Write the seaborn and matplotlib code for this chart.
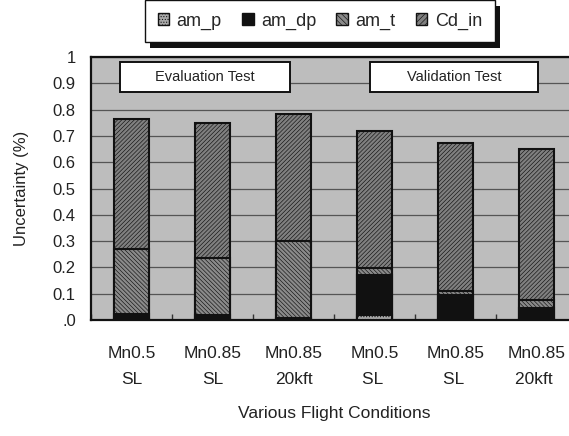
import matplotlib
matplotlib.use("Agg")
import matplotlib.pyplot as plt
import matplotlib.patheffects as pe
import seaborn as sns
import pandas as pd
import numpy as np
from matplotlib.patches import Patch, Rectangle

conditions = ["Mn0.5\nSL", "Mn0.85\nSL", "Mn0.85\n20kft", "Mn0.5\nSL ", "Mn0.85\nSL ", "Mn0.85\n20kft "]
am_p = [0.003, 0.003, 0.002, 0.018, 0.003, 0.003]
am_dp = [0.020, 0.018, 0.004, 0.152, 0.092, 0.042]
am_t = [0.246, 0.215, 0.295, 0.027, 0.016, 0.031]
cd_in = [0.495, 0.514, 0.482, 0.523, 0.562, 0.574]
series_names = ["am_p", "am_dp", "am_t", "Cd_in"]
ytick_vals = [0, 0.1, 0.2, 0.3, 0.4, 0.5, 0.6, 0.7, 0.8, 0.9, 1.0]
ytick_labels = [".0", "0.1", "0.2", "0.3", "0.4", "0.5", "0.6", "0.7", "0.8", "0.9", "1"]

sns.set_theme(style="white")
plt.rcParams["font.family"] = ["Liberation Sans", "DejaVu Sans"]
plt.rcParams["hatch.linewidth"] = 0.45

df = pd.DataFrame({"cond": conditions, "am_p": am_p, "am_dp": am_dp, "am_t": am_t, "Cd_in": cd_in})
df["c1"] = df["am_p"]
df["c2"] = df["c1"] + df["am_dp"]
df["c3"] = df["c2"] + df["am_t"]
df["c4"] = df["c3"] + df["Cd_in"]

fig = plt.figure(figsize=(5.69, 4.36), dpi=100)
ax = fig.add_axes([0.16, 0.266, 0.854, 0.603])
ax.set_facecolor("#bdbdbd")

styles = {
    "Cd_in": dict(color="#808080", hatch="////////"),
    "am_t": dict(color="#8a8a8a", hatch="\\\\\\\\\\\\\\\\"),
    "am_dp": dict(color="#111111", hatch=None),
    "am_p": dict(color="#a8a8a8", hatch="......"),
}
layers = [("c4", "Cd_in"), ("c3", "am_t"), ("c2", "am_dp"), ("c1", "am_p")]
for col, name in layers:
    st = styles[name]
    sns.barplot(data=df, x="cond", y=col, ax=ax, color=st["color"], saturation=1,
                width=0.43, edgecolor="#111111", linewidth=1.5, hatch=st["hatch"],
                errorbar=None, zorder=3)

ax.set_ylim(0, 1.0)
ax.set_xlim(-0.5, 5.5)
ax.set_yticks(ytick_vals)
ax.set_yticklabels(ytick_labels, fontsize=12, color="#222222")
ax.yaxis.grid(True, color="#555555", linewidth=0.9, zorder=1)
ax.set_axisbelow(True)
ax.tick_params(axis="y", length=0, pad=11)
ax.tick_params(axis="x", which="major", length=0, pad=19, labelsize=12.5, labelcolor="#222222")
ax.set_xticks(np.arange(-0.5, 6, 1.0), minor=True)
ax.tick_params(axis="x", which="minor", direction="in", length=4, color="#333333", bottom=True)
for lab in ax.get_xticklabels():
    lab.set_linespacing(1.9)

for s in ax.spines.values():
    s.set_visible(True)
    s.set_color("#111111")
    s.set_linewidth(1.6)

ax.set_xlabel("Various Flight Conditions", fontsize=12.5, color="#222222")
ax.xaxis.set_label_coords(0.5, -0.357)
ax.xaxis.label.set_va("center")
ax.set_ylabel("Uncertainty (%)", fontsize=12, color="#222222")
ax.yaxis.set_label_coords(-0.144, 0.5)
ax.yaxis.label.set_va("center")

# annotation boxes
for x0, x1, txt in [(-0.14, 1.96, "Evaluation Test"), (2.94, 5.02, "Validation Test")]:
    ax.add_patch(Rectangle((x0, 0.868), x1 - x0, 0.114, facecolor="white",
                           edgecolor="#111111", linewidth=1.4, zorder=5))
    ax.text((x0 + x1) / 2, 0.925, txt, ha="center", va="center", fontsize=10.5,
            color="#222222", zorder=6)

handles = [
    Patch(facecolor=styles["am_p"]["color"], edgecolor="#111111", hatch="......", label="am_p"),
    Patch(facecolor=styles["am_dp"]["color"], edgecolor="#111111", label="am_dp"),
    Patch(facecolor=styles["am_t"]["color"], edgecolor="#111111", hatch="\\\\\\\\\\\\", label="am_t"),
    Patch(facecolor=styles["Cd_in"]["color"], edgecolor="#111111", hatch="//////", label="Cd_in"),
]
leg = fig.legend(handles=handles, loc="upper left", bbox_to_anchor=(145 / 569, 1.0), ncol=4,
                 frameon=True, fancybox=False, framealpha=1.0, facecolor="white",
                 fontsize=13, handlelength=0.65, handleheight=0.65,
                 handletextpad=0.4, columnspacing=1.12, borderpad=0.7, borderaxespad=0.0)
frame = leg.get_frame()
frame.set_edgecolor("#111111")
frame.set_linewidth(1.0)
frame.set_path_effects([pe.SimplePatchShadow(offset=(3.6, -4.3), shadow_rgbFace="#111111", alpha=1),
                        pe.Normal()])

fig.savefig("out.png", dpi=100)
